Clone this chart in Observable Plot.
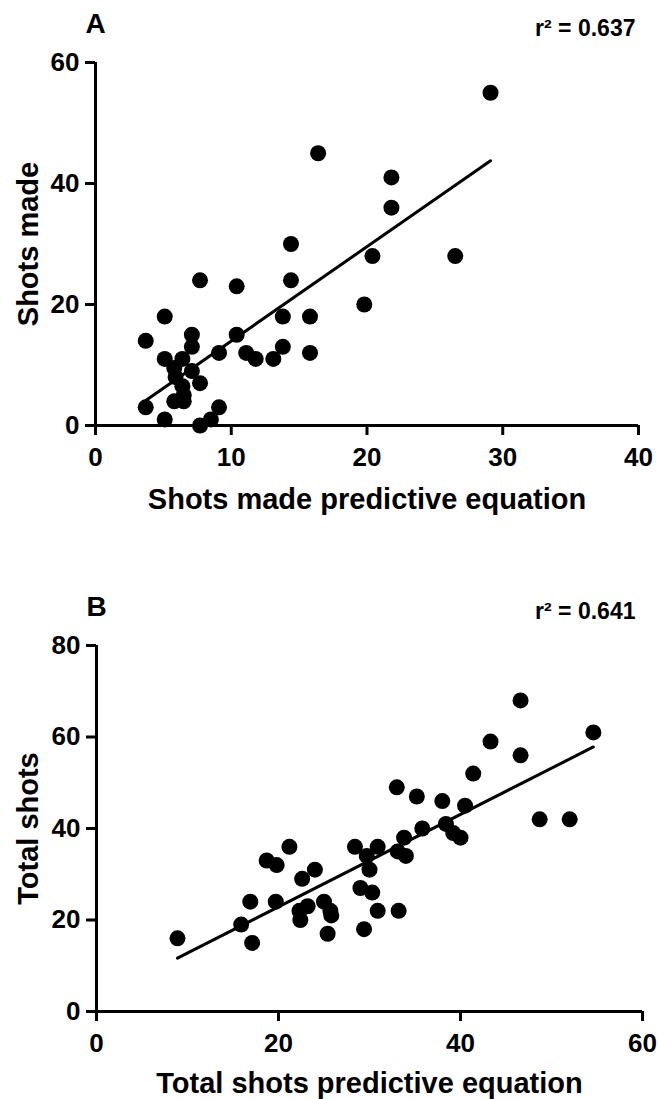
<!DOCTYPE html>
<html>
<head>
<meta charset="utf-8">
<script src="https://cdn.jsdelivr.net/npm/d3@7"></script>
<script src="https://cdn.jsdelivr.net/npm/@observablehq/plot@0.6"></script>
<style>
  html, body { margin: 0; padding: 0; background: #fff; }
  #chart svg { display: block; }
</style>
</head>
<body>
<div id="chart"></div>
<script>
// Panel A data: Shots made predictive equation vs Shots made
const aX = [3.7,3.7,5.1,5.1,5.1,7.7,7.7,7.1,7.1,6.4,7.1,7.7,9.1,9.1,8.5,10.4,10.4,11.1,11.8,13.1,13.8,13.8,14.4,14.4,15.8,15.8,20.4,26.5,19.8,29.1,21.8,21.8,16.4,5.8,5.9,6.4,6.5,5.8,6.5];
const aY = [14,3,18,11,1,24,0,15,13,11,9,7,12,3,1,23,15,12,11,11,13,18,24,30,18,12,28,28,20,55,41,36,45,9.5,8,6.5,5,4,4];
// Panel B data: Total shots predictive equation vs Total shots
const bX = [8.9,15.9,17.1,16.9,18.7,19.8,21.2,19.7,22.6,24.0,22.4,22.3,23.2,25.0,25.4,25.7,25.8,46.6,54.6,43.3,46.6,41.4,33.0,35.2,38.0,40.5,48.7,52.0,28.4,30.9,29.7,30.0,29.0,30.3,30.9,33.2,29.4,33.1,34.0,33.8,35.8,38.4,39.2,40.0];
const bY = [16,19,15,24,33,32,36,24,29,31,20,22,23,24,17,22,21,68,61,59,56,52,49,47,46,45,42,42,36,36,34,31,27,26,22,22,18,35,34,38,40,41,39,38];

const aXTicks = [0,10,20,30,40];
const aYTicks = [0,20,40,60];
const bXTicks = [0,20,40,60];
const bYTicks = [0,20,40,60,80];

const panelA = {letter: "A", r2: "r\u00B2 = 0.637", xLabel: "Shots made predictive equation", yLabel: "Shots made"};
const panelB = {letter: "B", r2: "r\u00B2 = 0.641", xLabel: "Total shots predictive equation", yLabel: "Total shots"};

const FONT = "'Liberation Sans', Arial, Helvetica, sans-serif";

function panel(xs, ys, xTicks, yTicks, info, opts) {
  const data = xs.map((x, i) => ({x, y: ys[i]}));
  const tickText = {fontSize: 26, fontWeight: "bold", fill: "black"};
  return Plot.plot({
    width: 658,
    height: opts.height,
    marginTop: opts.mt,
    marginBottom: opts.mb,
    marginLeft: opts.ml,
    marginRight: opts.mr,
    style: {fontFamily: FONT, fontSize: "26px", fontWeight: "bold", color: "black", background: "white"},
    x: {domain: [xTicks[0], xTicks[xTicks.length - 1]]},
    y: {domain: [yTicks[0], yTicks[yTicks.length - 1]]},
    marks: [
      Plot.axisX({ticks: xTicks, tickSize: 10, tickPadding: 12, strokeWidth: 3, label: null, ...tickText}),
      Plot.axisY({ticks: yTicks, tickSize: 10, tickPadding: 6, strokeWidth: 3, label: null, ...tickText}),
      Plot.ruleX([xTicks[0]], {strokeWidth: 3, stroke: "black"}),
      Plot.ruleY([yTicks[0]], {strokeWidth: 3, stroke: "black"}),
      Plot.linearRegressionY(data, {x: "x", y: "y", ci: 0, stroke: "black", strokeWidth: 3}),
      Plot.dot(data, {x: "x", y: "y", r: 8, fill: "black", stroke: "none"}),
      Plot.text([info.xLabel], {text: d => d, frameAnchor: "bottom", textAnchor: "middle", lineAnchor: "middle", dy: opts.xLabelDy, fontSize: 29, fontWeight: "bold", fill: "black"}),
      Plot.text([info.yLabel], {text: d => d, frameAnchor: "left", textAnchor: "middle", lineAnchor: "middle", rotate: -90, dx: opts.yLabelDx, fontSize: 29, fontWeight: "bold", fill: "black"}),
      Plot.text([info.letter], {text: d => d, frameAnchor: "top-left", textAnchor: "start", lineAnchor: "middle", dx: -10, dy: -38, fontSize: 28, fontWeight: "bold", fill: "black"}),
      Plot.text([info.r2], {text: d => d, frameAnchor: "top-right", textAnchor: "end", lineAnchor: "middle", dx: opts.r2Dx, dy: -34, fontSize: 23, fontWeight: "bold", fill: "black"})
    ]
  });
}

const chart = document.getElementById("chart");
chart.appendChild(panel(aX, aY, aXTicks, aYTicks, panelA,
  {height: 545, mt: 62, mb: 120, ml: 95, mr: 20, xLabelDy: 74, yLabelDx: -67, r2Dx: -3}));
chart.appendChild(panel(bX, bY, bXTicks, bYTicks, panelB,
  {height: 554, mt: 100, mb: 88, ml: 96, mr: 16, xLabelDy: 72, yLabelDx: -68, r2Dx: -7}));
</script>
</body>
</html>
